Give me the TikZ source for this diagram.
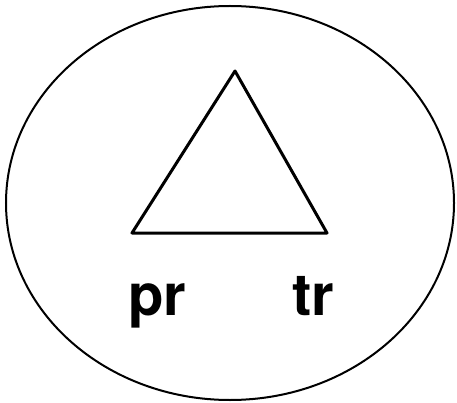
\documentclass[tikz,border=0pt]{standalone}
\usepackage{fontspec}
\setmainfont{TeX Gyre Heros}
\usepackage{tikz}
\usetikzlibrary{positioning,calc}

\begin{document}
\begin{tikzpicture}[
  x=1pt,y=-1pt,
  outer/.style={draw=black, line width=2pt},
  tri/.style={draw=black, line width=3pt, line join=round},
  lab/.style={font=\fontsize{58}{60}\selectfont\bfseries, anchor=base, inner sep=0pt}
]
  \useasboundingbox (0,0) rectangle (457,403);
  \draw[outer] (230,203) ellipse [x radius=224, y radius=197];

  \coordinate (apex) at (235,71);
  \coordinate (left) at (132,233);
  \coordinate (right) at (327,233);
  \draw[tri] (apex) -- (left) -- (right) -- cycle;

  \node[lab] (pr) at (157,315) {pr};
  \node[lab] (tr) at (313,315) {tr};
\end{tikzpicture}
\end{document}
